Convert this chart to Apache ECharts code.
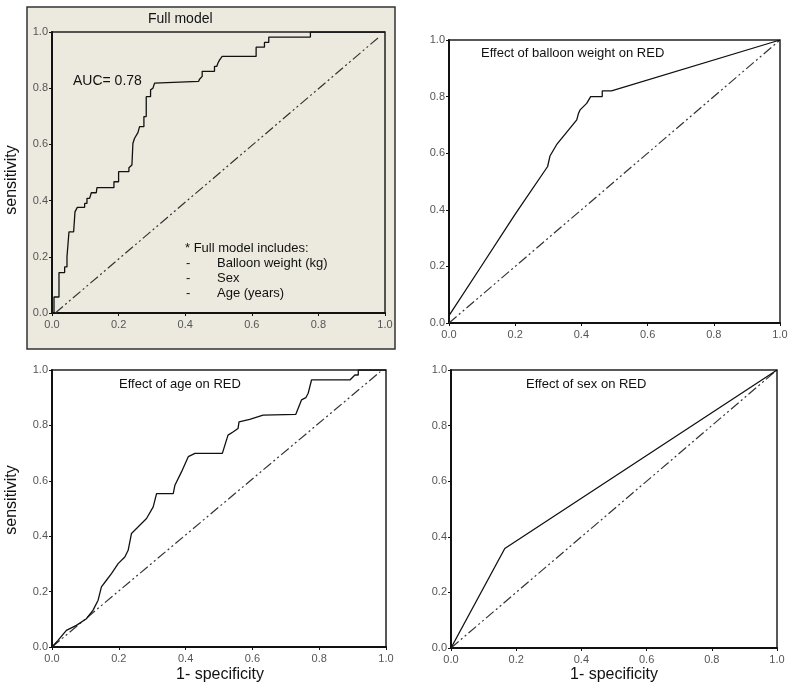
<!DOCTYPE html>
<html>
<head>
<meta charset="utf-8">
<script src="https://cdn.jsdelivr.net/npm/echarts@6/dist/echarts.min.js"></script>
<style>
  html, body { margin: 0; padding: 0; background: #fff; }
  #main { width: 800px; height: 691px; }
</style>
</head>
<body>
<div id="main"></div>
<script>
// ROC curves: [1 - specificity, sensitivity]
var fullModel = [
  [0.006, 0], [0.006, 0.057], [0.021, 0.057], [0.021, 0.144], [0.038, 0.144],
  [0.038, 0.164], [0.045, 0.164], [0.045, 0.2], [0.051, 0.2], [0.051, 0.289],
  [0.065, 0.289], [0.069, 0.36], [0.076, 0.376], [0.098, 0.376], [0.098, 0.39],
  [0.105, 0.39], [0.105, 0.408], [0.113, 0.408], [0.118, 0.428], [0.133, 0.428],
  [0.135, 0.446], [0.186, 0.446], [0.186, 0.467], [0.2, 0.467], [0.2, 0.503],
  [0.231, 0.503], [0.231, 0.517], [0.24, 0.527], [0.243, 0.533], [0.243, 0.604],
  [0.248, 0.622], [0.258, 0.642], [0.263, 0.663], [0.276, 0.663], [0.276, 0.699],
  [0.283, 0.699], [0.283, 0.77], [0.296, 0.77], [0.296, 0.794], [0.303, 0.8],
  [0.308, 0.818], [0.311, 0.824], [0.44, 0.824], [0.443, 0.832], [0.451, 0.842],
  [0.451, 0.86], [0.488, 0.86], [0.488, 0.878], [0.495, 0.878], [0.498, 0.889],
  [0.503, 0.9], [0.511, 0.913], [0.613, 0.913], [0.613, 0.946], [0.638, 0.946],
  [0.638, 0.963], [0.651, 0.963], [0.651, 0.982], [0.776, 0.982], [0.776, 1.0],
  [1.0, 1.0]
];
var balloonWeight = [
  [0, 0.026], [0.1, 0.205], [0.2, 0.385], [0.298, 0.553], [0.305, 0.59],
  [0.325, 0.63], [0.386, 0.718], [0.391, 0.74], [0.396, 0.753], [0.416, 0.776],
  [0.428, 0.8], [0.463, 0.8], [0.463, 0.82], [0.491, 0.82], [1.0, 1.0]
];
var age = [
  [0, 0], [0.018, 0.024], [0.043, 0.06], [0.073, 0.078], [0.103, 0.102],
  [0.123, 0.133], [0.138, 0.169], [0.148, 0.217], [0.163, 0.241], [0.178, 0.265],
  [0.198, 0.301], [0.218, 0.325], [0.228, 0.349], [0.238, 0.41], [0.253, 0.428],
  [0.283, 0.464], [0.303, 0.506], [0.313, 0.554], [0.363, 0.554], [0.368, 0.584],
  [0.388, 0.633], [0.408, 0.687], [0.428, 0.699], [0.51, 0.699], [0.527, 0.765],
  [0.543, 0.777], [0.557, 0.789], [0.56, 0.813], [0.592, 0.822], [0.632, 0.837],
  [0.73, 0.84], [0.747, 0.892], [0.76, 0.9], [0.767, 0.916], [0.777, 0.964],
  [0.892, 0.964], [0.907, 0.982], [0.917, 0.982], [0.917, 1.0], [1.0, 1.0]
];
var sex = [[0, 0], [0.165, 0.358], [1.0, 1.0]];
var chanceFull = [[0.01, 0], [0.985, 0.985]];
var chance = [[0, 0], [1, 1]];
var chanceAge = [[0, 0], [0.983, 0.994]];
var panelTitles = ['Full model', 'Effect of balloon weight on RED', 'Effect of age on RED', 'Effect of sex on RED'];
var footnote = ['* Full model includes:', 'Balloon weight (kg)', 'Sex', 'Age (years)'];

var font = 'Liberation Sans, Arial, sans-serif';
var dom = document.getElementById('main');
var myChart = echarts.init(dom);

var grids = [
  { left: 52, top: 32, width: 333, height: 281 },
  { left: 449, top: 40, width: 331, height: 283 },
  { left: 52, top: 370, width: 334, height: 277 },
  { left: 451, top: 370, width: 326, height: 278 }
];

function axis(i, isX) {
  return {
    type: 'value', gridIndex: i, min: 0, max: 1, interval: 0.2,
    axisLine: { show: true, onZero: false, lineStyle: { color: '#111', width: 2 } },
    axisTick: { show: true, length: 3, lineStyle: { color: '#111' } },
    axisLabel: {
      color: '#555', fontSize: 11, fontFamily: font, margin: isX ? 6 : 4,
      formatter: function (v) { return v.toFixed(1); }
    },
    splitLine: { show: false }
  };
}

function roc(i, data) {
  return {
    type: 'line', xAxisIndex: i, yAxisIndex: i, data: data,
    showSymbol: false, symbol: 'none', silent: true, z: 3,
    lineStyle: { color: '#111', width: 1.3 }
  };
}
function diag(i, data) {
  return {
    type: 'line', xAxisIndex: i, yAxisIndex: i, data: data,
    showSymbol: false, symbol: 'none', silent: true,
    lineStyle: { color: '#333', width: 1.2, type: [10, 3, 2, 3, 2, 3] }
  };
}

var option = {
  animation: false,
  graphic: [
    { type: 'rect', z: -10, shape: { x: 27, y: 7, width: 368, height: 342 },
      style: { fill: '#eceadf', stroke: '#333', lineWidth: 1.5 } },
    { type: 'text', x: 185, y: 242, style: { text: footnote[0], font: '13px ' + font, fill: '#111' } },
    { type: 'text', x: 186, y: 257, style: { text: '-', font: '13px ' + font, fill: '#111' } },
    { type: 'text', x: 217, y: 257, style: { text: footnote[1], font: '13px ' + font, fill: '#111' } },
    { type: 'text', x: 186, y: 272, style: { text: '-', font: '13px ' + font, fill: '#111' } },
    { type: 'text', x: 217, y: 272, style: { text: footnote[2], font: '13px ' + font, fill: '#111' } },
    { type: 'text', x: 186, y: 287, style: { text: '-', font: '13px ' + font, fill: '#111' } },
    { type: 'text', x: 217, y: 287, style: { text: footnote[3], font: '13px ' + font, fill: '#111' } },
    { type: 'text', x: 73, y: 74, style: { text: 'AUC= 0.78', font: '14px ' + font, fill: '#111' } },
    { type: 'text', x: 12, y: 180, rotation: Math.PI / 2,
      style: { text: 'sensitivity', font: '16px ' + font, fill: '#111', align: 'center', verticalAlign: 'middle' } },
    { type: 'text', x: 12, y: 500, rotation: Math.PI / 2,
      style: { text: 'sensitivity', font: '16px ' + font, fill: '#111', align: 'center', verticalAlign: 'middle' } },
    { type: 'text', x: 220, y: 675,
      style: { text: '1- specificity', font: '16px ' + font, fill: '#111', align: 'center', verticalAlign: 'middle' } },
    { type: 'text', x: 614, y: 675,
      style: { text: '1- specificity', font: '16px ' + font, fill: '#111', align: 'center', verticalAlign: 'middle' } }
  ],
  title: [
    { text: panelTitles[0], left: 148, top: 12, padding: 0, textStyle: { fontSize: 14, fontWeight: 'normal', color: '#111', fontFamily: font } },
    { text: panelTitles[1], left: 481, top: 47, padding: 0, textStyle: { fontSize: 13, fontWeight: 'normal', color: '#111', fontFamily: font } },
    { text: panelTitles[2], left: 119, top: 378, padding: 0, textStyle: { fontSize: 13, fontWeight: 'normal', color: '#111', fontFamily: font } },
    { text: panelTitles[3], left: 526, top: 378, padding: 0, textStyle: { fontSize: 13, fontWeight: 'normal', color: '#111', fontFamily: font } }
  ],
  grid: grids.map(function (g) {
    return Object.assign({ show: true, borderColor: '#222', borderWidth: 1.5, backgroundColor: 'transparent', containLabel: false }, g);
  }),
  xAxis: [axis(0, true), axis(1, true), axis(2, true), axis(3, true)],
  yAxis: [axis(0, false), axis(1, false), axis(2, false), axis(3, false)],
  series: [
    diag(0, chanceFull), roc(0, fullModel),
    diag(1, chance), roc(1, balloonWeight),
    diag(2, chanceAge), roc(2, age),
    diag(3, chance), roc(3, sex)
  ]
};

if (option && typeof option === 'object') {
  myChart.setOption(option);
}
</script>
</body>
</html>
